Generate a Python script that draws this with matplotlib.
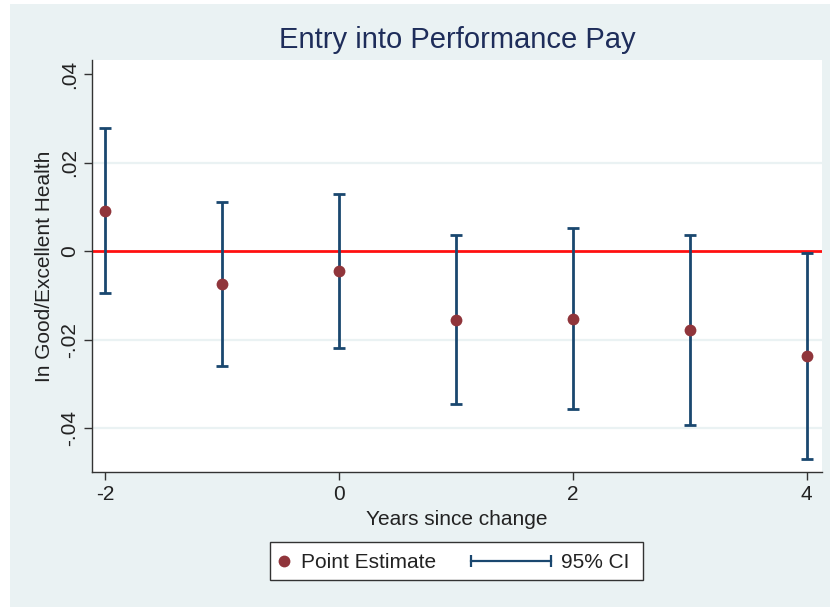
import matplotlib
matplotlib.use("Agg")
import matplotlib.pyplot as plt
from matplotlib import font_manager
from matplotlib.lines import Line2D
from matplotlib.patches import Rectangle

# Event-study estimates
years = [-2, -1, 0, 1, 2, 3, 4]
estimate = [0.0090, -0.0075, -0.0044, -0.0155, -0.0154, -0.0179, -0.0237]
ci_low = [-0.0094, -0.0259, -0.0218, -0.0345, -0.0357, -0.0393, -0.0470]
ci_high = [0.0278, 0.0111, 0.0129, 0.0037, 0.0052, 0.0037, -0.0005]

ytick_vals = [-0.04, -0.02, 0.0, 0.02, 0.04]
ytick_text = ["-.04", "-.02", "0", ".02", ".04"]
xtick_vals = [-2, 0, 2, 4]
legend_labels = ["Point Estimate", "95% CI"]

NAVY = "#1a476f"
MAROON = "#90353b"
BG = "#eaf2f3"
TITLE = "#1e2d5a"
TEXT = "#222222"

names = {f.name for f in font_manager.fontManager.ttflist}
family = "Liberation Sans Narrow" if "Liberation Sans Narrow" in names else "Liberation Sans"
plt.rcParams["font.family"] = [family, "DejaVu Sans"]

W, H = 830, 607
fig = plt.figure(figsize=(W / 100, H / 100), dpi=100, facecolor="white")


def fx(px):
    return px / W


def fy(py):
    return 1 - py / H


fig.patches.append(Rectangle((fx(10), 0), fx(820), 1 - 4 / H,
                             transform=fig.transFigure, facecolor=BG,
                             edgecolor="none", zorder=-10))

ax = fig.add_axes([fx(92), fy(472), fx(730), 412 / H])
ax.set_facecolor("white")
ax.set_xlim(-2.11, 4.13)
ax.set_ylim(-0.0499, 0.0432)

for v in ytick_vals:
    if v not in (0, 0.04):
        ax.axhline(v, color=BG, lw=1.6, zorder=0)
ax.axhline(0, color="#ff1010", lw=2.0, zorder=1)

yerr = [[e - lo for e, lo in zip(estimate, ci_low)],
        [hi - e for e, hi in zip(estimate, ci_high)]]
ax.errorbar(years, estimate, yerr=yerr, fmt="none", ecolor=NAVY,
            elinewidth=2.0, capsize=4, capthick=2.0, zorder=2)
ax.plot(years, estimate, "o", color=MAROON, markersize=8.5, zorder=3,
        markeredgewidth=0)

for s in ["top", "right"]:
    ax.spines[s].set_visible(False)
for s in ["left", "bottom"]:
    ax.spines[s].set_color("#333333")
    ax.spines[s].set_linewidth(1.0)

ax.set_yticks(ytick_vals)
ax.set_yticklabels(ytick_text, rotation=90, va="center")
ax.set_xticks(xtick_vals)
ax.set_xticklabels([str(v) for v in xtick_vals])
ax.tick_params(axis="both", labelsize=15, colors="#333333", labelcolor=TEXT,
               length=6, width=1.0)

ax.set_ylabel("In Good/Excellent Health", fontsize=15, color=TEXT, labelpad=4)
ax.set_xlabel("Years since change", fontsize=15, color=TEXT, labelpad=4)
fig.text(fx(457), fy(40), "Entry into Performance Pay",
         ha="center", va="center", fontsize=21, color=TITLE)

# Legend box below the plot
fig.patches.append(Rectangle((fx(270), fy(580)), fx(373), 38 / H,
                             transform=fig.transFigure, facecolor="white",
                             edgecolor="#333333", lw=1.0, zorder=5))
ly = fy(561)
fig.add_artist(Line2D([fx(284)], [ly], marker="o", color=MAROON, lw=0,
                      markersize=8.5, markeredgewidth=0,
                      transform=fig.transFigure, zorder=6))
fig.text(fx(301), fy(562), legend_labels[0], ha="left", va="center",
         fontsize=15, color=TEXT, zorder=6)
fig.add_artist(Line2D([fx(471), fx(551)], [ly, ly], color=NAVY, lw=1.6,
                      transform=fig.transFigure, zorder=6))
fig.add_artist(Line2D([fx(471), fx(551)], [ly, ly], color=NAVY, lw=0,
                      marker="|", markersize=8, markeredgewidth=1.6,
                      transform=fig.transFigure, zorder=6))
fig.text(fx(561), fy(562), legend_labels[1], ha="left", va="center",
         fontsize=15, color=TEXT, zorder=6)

fig.savefig("out.png", dpi=100, facecolor=fig.get_facecolor())
